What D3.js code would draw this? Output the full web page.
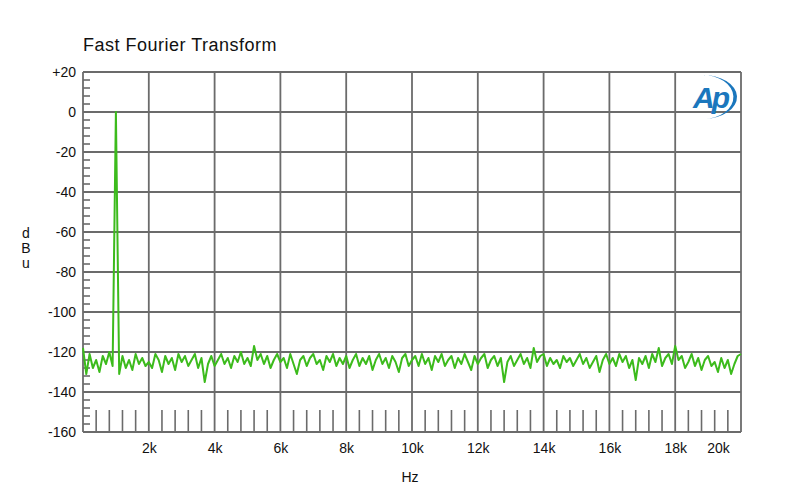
<!DOCTYPE html>
<html>
<head>
<meta charset="utf-8">
<script src="https://cdn.jsdelivr.net/npm/d3@7"></script>
<style>
  html, body { margin: 0; padding: 0; background: #fff; }
  svg { display: block; font-family: "Liberation Sans", Arial, sans-serif; }
</style>
</head>
<body>
<svg id="chart" width="800" height="500"></svg>
<script>
// ---- data ----
const title = "Fast Fourier Transform";
const xLabel = "Hz";
const yLabel = "dBu";
const binStepHz = 100; // FFT bin spacing of the plotted trace
const levelDbu = [
  -118, -131, -121, -128, -124, -130, -122, -126, -120, -127,
  0,
  -131, -122, -128, -124, -129, -121, -126, -123, -127,
  -125, -128, -121, -124, -130, -122, -126, -123, -129, -121,
  -125, -122, -127, -124, -121, -128, -123, -135, -126, -122,
  -127, -124, -121, -126, -123, -128, -122, -125, -120, -126,
  -123, -127, -117, -124, -121, -126, -122, -128, -124, -121,
  -125, -123, -128, -121, -126, -131, -124, -122, -127, -123,
  -121, -126, -124, -129, -122, -125, -121, -127, -123, -126,
  -122, -128, -124, -121, -127, -123, -126, -122, -129, -124,
  -121, -126, -123, -128, -122, -125, -130, -123, -121, -127,
  -124, -122, -127, -121, -126, -123, -129, -122, -125, -121,
  -127, -124, -122, -128, -123, -126, -121, -125, -129, -122,
  -126, -123, -121, -128, -124, -122, -127, -123, -135, -125,
  -122, -127, -124, -121, -126, -123, -128, -118, -125, -122,
  -121, -127, -123, -126, -124, -128, -122, -125, -123, -127,
  -124, -121, -126, -123, -128, -125, -122, -130, -124, -121,
  -126, -123, -127, -121, -125, -122, -128, -124, -134, -123,
  -126, -122, -128, -121, -125, -118, -127, -123, -121, -126,
  -117, -124, -122, -128, -125, -121, -127, -123, -129, -124,
  -122, -127, -125, -130, -123, -128, -124, -131, -126, -122,
  -121
];
const xTicks = [2000, 4000, 6000, 8000, 10000, 12000, 14000, 16000, 18000, 20000];
const xTickLabels = ["2k", "4k", "6k", "8k", "10k", "12k", "14k", "16k", "18k", "20k"];
const yTicks = [20, 0, -20, -40, -60, -80, -100, -120, -140, -160];
const yTickLabels = ["+20", "0", "-20", "-40", "-60", "-80", "-100", "-120", "-140", "-160"];

// ---- layout ----
const svg = d3.select("#chart");
const L = 83, R = 741, T = 72, B = 432;
const x = d3.scaleLinear().domain([0, 20000]).range([L, R]);
const y = d3.scaleLinear().domain([-160, 20]).range([B, T]);
const gridColor = "#6b6b6b";

// title
svg.append("text").attr("x", 83).attr("y", 51)
  .attr("font-size", 18).attr("letter-spacing", 0.5).attr("fill", "#111").text(title);

// grid lines
const g = svg.append("g");
g.selectAll("line.h").data(yTicks).join("line")
  .attr("x1", L).attr("x2", R)
  .attr("y1", d => y(d)).attr("y2", d => y(d))
  .attr("stroke", gridColor).attr("stroke-width", 1.8);
g.selectAll("line.v").data([0].concat(xTicks)).join("line")
  .attr("y1", T).attr("y2", B)
  .attr("x1", d => x(d)).attr("x2", d => x(d))
  .attr("stroke", gridColor).attr("stroke-width", 1.8);

// minor ticks left (every 4 dB)
const yMinor = d3.range(-156, 20, 4).filter(v => v % 20 !== 0);
g.selectAll("line.ym").data(yMinor).join("line")
  .attr("x1", L).attr("x2", L + 7)
  .attr("y1", d => y(d)).attr("y2", d => y(d))
  .attr("stroke", gridColor).attr("stroke-width", 1.6);

// minor ticks bottom (every 400 Hz)
const xMinor = d3.range(400, 20000, 400).filter(v => v % 2000 !== 0);
g.selectAll("line.xm").data(xMinor).join("line")
  .attr("y1", B).attr("y2", B - 22)
  .attr("x1", d => x(d)).attr("x2", d => x(d))
  .attr("stroke", gridColor).attr("stroke-width", 1.6);

// y axis labels
const yAxis = d3.axisLeft(y).tickValues(yTicks)
  .tickFormat((d, i) => yTickLabels[i]).tickSize(0).tickPadding(7);
const ya = svg.append("g").attr("transform", `translate(${L},0)`).call(yAxis);
ya.select(".domain").remove();
ya.selectAll("text").attr("font-size", 14).attr("fill", "#111")
  .attr("font-family", "Liberation Sans, Arial, sans-serif");

// x axis labels
const xAxis = d3.axisBottom(x).tickValues(xTicks)
  .tickFormat((d, i) => xTickLabels[i]).tickSize(0).tickPadding(11);
const xa = svg.append("g").attr("transform", `translate(0,${B})`).call(xAxis);
xa.select(".domain").remove();
xa.selectAll("text").attr("font-size", 14).attr("fill", "#111")
  .attr("font-family", "Liberation Sans, Arial, sans-serif");
xa.selectAll(".tick").filter(d => d === 20000).select("text").attr("dx", -23);

// axis titles
svg.append("text").attr("x", 410).attr("y", 482).attr("text-anchor", "middle")
  .attr("font-size", 14).attr("fill", "#111").text(xLabel);
yLabel.split("").forEach((ch, i) => {
  svg.append("text").attr("x", 26).attr("y", 238 + i * 15).attr("text-anchor", "middle")
    .attr("font-size", 14).attr("fill", "#111").text(ch);
});

// trace
const line = d3.line().x((d, i) => x(i * binStepHz)).y(d => y(d));
svg.append("path").datum(levelDbu).attr("d", line)
  .attr("fill", "none").attr("stroke", "#3cbb1c").attr("stroke-width", 2)
  .attr("stroke-linejoin", "round");

// AP logo
const logo = svg.append("g");
logo.append("path")
  .attr("d", "M 702 75 A 34 22 0 0 1 704 119 A 29 21 0 0 0 702 75 Z")
  .attr("fill", "#1b77bd");
logo.append("text").attr("x", 710).attr("y", 108).attr("text-anchor", "middle")
  .attr("font-size", 30).attr("font-style", "italic").attr("font-weight", "bold")
  .attr("fill", "#1b77bd").attr("letter-spacing", -3).text("Ap");
</script>
</body>
</html>
